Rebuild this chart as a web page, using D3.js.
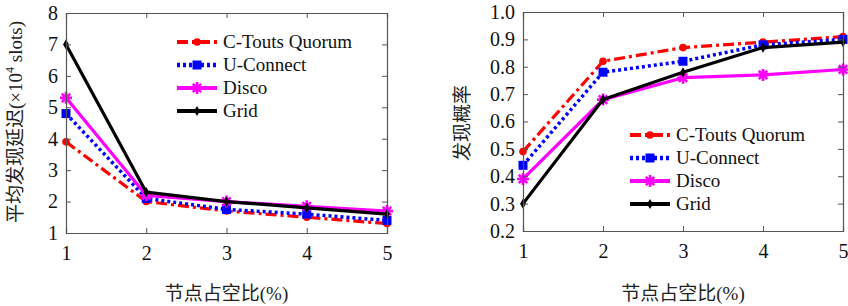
<!DOCTYPE html>
<html>
<head>
<meta charset="utf-8">
<script src="https://cdn.jsdelivr.net/npm/d3@7"></script>
<style>
  body { margin: 0; background: #fff; }
  svg { display: block; }
  .serif { font-family: 'Liberation Serif', 'DejaVu Serif', serif; }
  .cjk { font-family: 'Liberation Serif', 'Noto Sans CJK SC', serif; }
</style>
</head>
<body>
<div id="app"></div>
<script>
// x categories: duty cycle (%)
const dutyCycles = [1, 2, 3, 4, 5]
const seriesNames = ['C-Touts Quorum', 'U-Connect', 'Disco', 'Grid']

// left panel: average discovery latency (x10^4 slots)
const latencyCTouts = [3.9, 2.0, 1.7, 1.5, 1.3]
const latencyUConnect = [4.8, 2.1, 1.75, 1.6, 1.4]
const latencyDisco = [5.3, 2.2, 2.0, 1.85, 1.7]
const latencyGrid = [7.0, 2.3, 2.0, 1.8, 1.6]
const latencyTicks = [1, 2, 3, 4, 5, 6, 7, 8]

// right panel: discovery probability
const probCTouts = [0.49, 0.82, 0.87, 0.89, 0.91]
const probUConnect = [0.44, 0.78, 0.82, 0.88, 0.9]
const probDisco = [0.39, 0.68, 0.76, 0.77, 0.79]
const probGrid = [0.3, 0.68, 0.78, 0.87, 0.89]
const probTicks = [0.2, 0.3, 0.4, 0.5, 0.6, 0.7, 0.8, 0.9, 1.0]

const width = 848
const height = 306

// line styles per series
const styles = [
	{ color: '#ff0000', dash: '11,4,3,4', width: 3.2, marker: 'circle' },
	{ color: '#0000ff', dash: '3,3', width: 3.5, marker: 'square' },
	{ color: '#ff00ff', dash: null, width: 3.2, marker: 'star' },
	{ color: '#000000', dash: null, width: 3.2, marker: 'diamond' },
]

const svg = d3
	.select('#app')
	.append('svg')
	.attr('width', width)
	.attr('height', height)

function drawMarker(g, type, color, x, y) {
	if (type === 'circle') {
		g.append('circle').attr('cx', x).attr('cy', y).attr('r', 3.8).attr('fill', color)
	} else if (type === 'square') {
		g.append('rect')
			.attr('x', x - 4.5)
			.attr('y', y - 4.5)
			.attr('width', 9)
			.attr('height', 9)
			.attr('fill', color)
	} else if (type === 'star') {
		// thick asterisk
		const r = 6
		const p = `M${x - r},${y}L${x + r},${y}M${x},${y - r}L${x},${y + r}` +
			`M${x - r * 0.7},${y - r * 0.7}L${x + r * 0.7},${y + r * 0.7}` +
			`M${x - r * 0.7},${y + r * 0.7}L${x + r * 0.7},${y - r * 0.7}`
		g.append('path').attr('d', p).attr('stroke', color).attr('stroke-width', 2.6).attr('fill', 'none')
	} else {
		g.append('path')
			.attr('d', d3.symbol(d3.symbolDiamond, 30)())
			.attr('transform', `translate(${x},${y})`)
			.attr('fill', color)
	}
}

function drawPanel(cfg) {
	const x = d3.scaleLinear().domain([1, 5]).range([cfg.left, cfg.right])
	const y = d3.scaleLinear().domain(cfg.domain).range([cfg.bottom, cfg.top])
	const g = svg.append('g')

	// series lines
	cfg.series.forEach((vals, i) => {
		const s = styles[i]
		const line = d3
			.line()
			.x((d, j) => x(dutyCycles[j]))
			.y((d) => y(d))
		g.append('path')
			.datum(vals)
			.attr('d', line)
			.attr('fill', 'none')
			.attr('stroke', s.color)
			.attr('stroke-width', s.width)
			.attr('stroke-dasharray', s.dash)
			.attr('stroke-linejoin', 'round')
		vals.forEach((v, j) => drawMarker(g, s.marker, s.color, x(dutyCycles[j]), y(v)))
	})

	// axes box with inward ticks (matlab style)
	const axisColor = '#555'
	const yAxis = d3.axisLeft(y).tickValues(cfg.ticks).tickSize(-5).tickPadding(8).tickFormat(cfg.fmt)
	const yAxisR = d3.axisRight(y).tickValues(cfg.ticks).tickSize(-5).tickFormat('')
	const xAxis = d3.axisBottom(x).tickValues(dutyCycles).tickSize(-5).tickPadding(13).tickFormat(d3.format('d'))
	const xAxisT = d3.axisTop(x).tickValues(dutyCycles).tickSize(-5).tickFormat('')

	const axes = [
		g.append('g').attr('transform', `translate(${cfg.left},0)`).call(yAxis),
		g.append('g').attr('transform', `translate(${cfg.right},0)`).call(yAxisR),
		g.append('g').attr('transform', `translate(0,${cfg.bottom})`).call(xAxis),
		g.append('g').attr('transform', `translate(0,${cfg.top})`).call(xAxisT),
	]
	axes.forEach((a) => {
		a.attr('font-family', null)
		a.select('.domain').attr('stroke', axisColor).attr('stroke-width', 1.2)
		a.selectAll('.tick line').attr('stroke', axisColor)
		a.selectAll('.tick text')
			.attr('class', 'serif')
			.attr('fill', '#111')
			.style('font-size', '20px')
	})

	// x title
	g.append('text')
		.attr('class', 'cjk')
		.attr('x', (cfg.left + cfg.right) / 2)
		.attr('y', 300)
		.attr('text-anchor', 'middle')
		.style('font-size', '19px')
		.attr('fill', '#222')
		.text('节点占空比(%)')

	// y title
	const yt = g.append('text')
		.attr('class', 'cjk')
		.attr('transform', `translate(${cfg.yTitleX},${cfg.yTitleY}) rotate(-90)`)
		.attr('text-anchor', 'middle')
		.style('font-size', '19px')
		.attr('fill', '#222')
	cfg.yTitle.forEach((part) => {
		const t = yt.append('tspan').text(part.text)
		if (part.sup) t.attr('dy', -8).style('font-size', '12px')
		if (part.after) t.attr('dy', 8)
	})

	// legend
	const lg = g.append('g')
	seriesNames.forEach((name, i) => {
		const s = styles[i]
		const ly = cfg.legendY + i * cfg.legendGap
		lg.append('line')
			.attr('x1', cfg.legendX)
			.attr('x2', cfg.legendX + 40)
			.attr('y1', ly)
			.attr('y2', ly)
			.attr('stroke', s.color)
			.attr('stroke-width', s.width + 0.8)
			.attr('stroke-dasharray', s.dash)
		drawMarker(lg, s.marker, s.color, cfg.legendX + 20, ly)
		lg.append('text')
			.attr('class', 'serif')
			.attr('x', cfg.legendX + 46)
			.attr('y', ly + 6)
			.style('font-size', '19px')
			.attr('fill', '#111')
			.text(name)
	})
}

drawPanel({
	left: 66, right: 387, top: 13, bottom: 233,
	domain: [1, 8], ticks: latencyTicks, fmt: d3.format('d'),
	series: [latencyCTouts, latencyUConnect, latencyDisco, latencyGrid],
	yTitleX: 22, yTitleY: 122,
	yTitle: [{ text: '平均发现延迟(×10' }, { text: '4', sup: true }, { text: ' slots)', after: true }],
	legendX: 177, legendY: 42, legendGap: 23,
})

drawPanel({
	left: 523, right: 843, top: 12, bottom: 231,
	domain: [0.2, 1.0], ticks: probTicks, fmt: d3.format('.1f'),
	series: [probCTouts, probUConnect, probDisco, probGrid],
	yTitleX: 469, yTitleY: 123,
	yTitle: [{ text: '发现概率' }],
	legendX: 630, legendY: 135, legendGap: 23,
})
</script>
</body>
</html>
